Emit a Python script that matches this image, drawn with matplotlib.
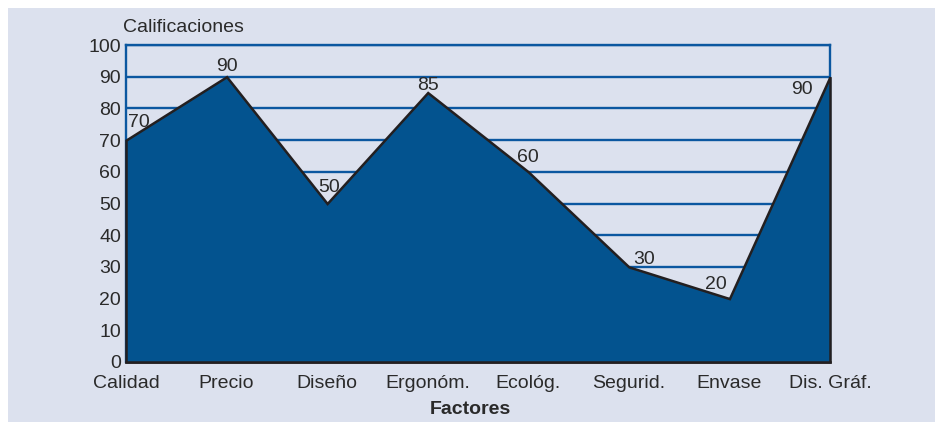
import matplotlib
matplotlib.use("Agg")
import matplotlib.pyplot as plt
from matplotlib.patches import Rectangle

# Datos del gráfico
factores = ["Calidad", "Precio", "Diseño", "Ergonóm.", "Ecológ.",
            "Segurid.", "Envase", "Dis. Gráf."]
calificaciones = [70, 90, 50, 85, 60, 30, 20, 90]
yticks = [0, 10, 20, 30, 40, 50, 60, 70, 80, 90, 100]

# Estilo
FONDO = "#dce1ee"
AZUL = "#03538f"
LINEA = "#0b57a0"
BORDE = "#231f20"
TEXTO = "#2a2a2a"
plt.rcParams["font.family"] = ["Liberation Sans", "DejaVu Sans"]
plt.rcParams["font.size"] = 14

fig = plt.figure(figsize=(9.38, 4.22), dpi=100, facecolor="white")
fig.patches.append(Rectangle((8 / 938, 0), 927 / 938, 414 / 422,
                             transform=fig.transFigure, facecolor=FONDO,
                             edgecolor="none", zorder=-10))

ax = fig.add_axes([126 / 938, 60 / 422, 704 / 938, 317 / 422])
ax.set_facecolor(FONDO)

x = list(range(len(factores)))
ax.set_xlim(0, len(factores) - 1)
ax.set_ylim(0, 100)

# Líneas horizontales de referencia
for v in yticks[1:]:
    ax.axhline(v, color=LINEA, lw=1.7, zorder=1)

# Área
ax.fill_between(x, calificaciones, 0, facecolor=AZUL, edgecolor=BORDE,
                lw=1.8, zorder=3, clip_on=False, joinstyle="miter")

for side in ["top", "right", "left"]:
    ax.spines[side].set_color(LINEA)
    ax.spines[side].set_linewidth(1.7)
ax.spines["bottom"].set_color(BORDE)
ax.spines["bottom"].set_linewidth(1.8)

ax.set_yticks(yticks)
ax.set_yticklabels([str(v) for v in yticks])
ax.set_xticks(x)
ax.set_xticklabels(factores)
ax.tick_params(axis="y", length=0, pad=3.6, colors=TEXTO, labelsize=14)
ax.tick_params(axis="x", length=0, pad=9, colors=TEXTO, labelsize=14)

# Etiquetas de valor (desplazamiento en píxeles, alineación)
px = 0.72
offsets = [(2, 13, "left"), (0, 6, "center"), (2, 11, "center"),
           (0, 3, "center"), (0, 10, "center"), (4, 3, "left"),
           (-3, 10, "right"), (-17, -17, "right")]
for xi, v, (dx, dy, ha) in zip(x, calificaciones, offsets):
    ax.annotate(str(v), (xi, v), xytext=(dx * px, dy * px),
                textcoords="offset points", ha=ha, va="baseline",
                color=TEXTO, fontsize=14, zorder=5, annotation_clip=False)

fig.text(123 / 938, 1 - 28 / 422, "Calificaciones", ha="left", va="center",
         color=TEXTO, fontsize=14)
fig.text(470 / 938, 1 - 410 / 422, "Factores", ha="center", va="center",
         color=TEXTO, fontsize=14, fontweight="bold")

fig.savefig("out.png", dpi=100, facecolor="white")
